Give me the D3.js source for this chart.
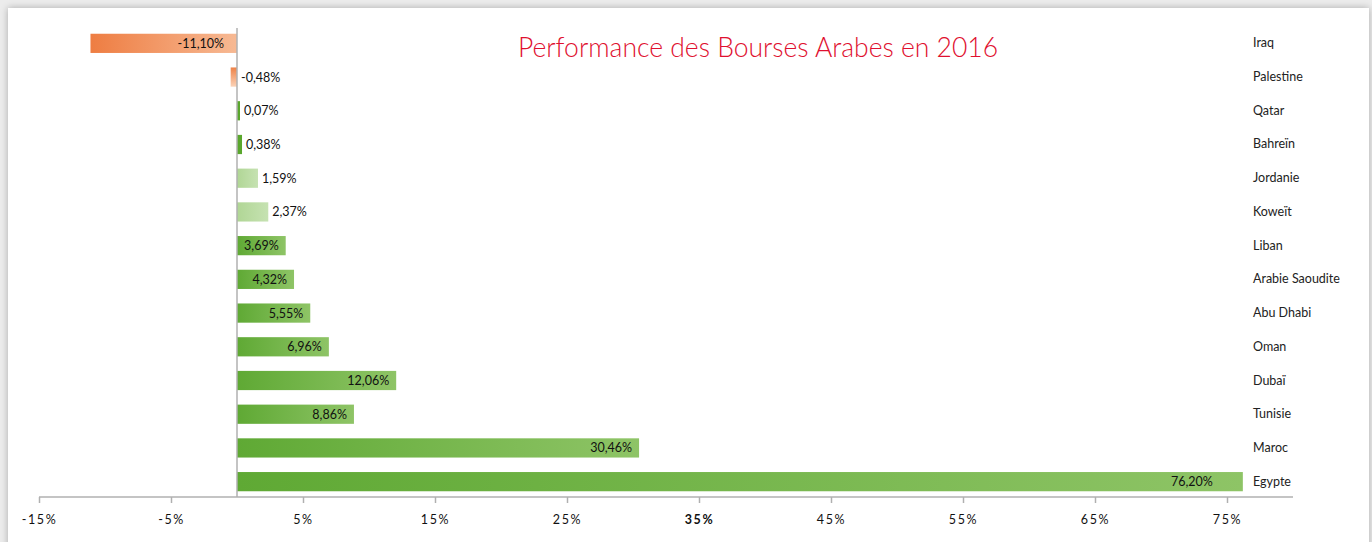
<!DOCTYPE html>
<html>
<head>
<meta charset="utf-8">
<script src="https://cdn.jsdelivr.net/npm/d3@7"></script>
<style>
  html, body { margin: 0; padding: 0; background: #ececec; overflow: hidden; }
  .card { position: absolute; left: 8px; top: 8px; width: 1361px; height: 560px; background: #fff;
          box-shadow: 0 0 7px rgba(0,0,0,0.28); }
  svg { position: absolute; left: 0; top: 0; }
  text { font-family: Lato, "Open Sans", sans-serif; }
</style>
</head>
<body>
<div class="card"></div>
<script>
// data
const countries = ['Iraq', 'Palestine', 'Qatar', 'Bahreïn', 'Jordanie', 'Koweït', 'Liban',
  'Arabie Saoudite', 'Abu Dhabi', 'Oman', 'Dubaï', 'Tunisie', 'Maroc', 'Egypte'];
const perf = [-11.10, -0.48, 0.07, 0.38, 1.59, 2.37, 3.69, 4.32, 5.55, 6.96, 12.06, 8.86, 30.46, 76.20];
const tickVals = [-15, -5, 5, 15, 25, 35, 45, 55, 65, 75];
const title = 'Performance des Bourses Arabes en 2016';

const w = 1372, h = 542;
const data = countries.map((c, i) => ({name: c, v: perf[i]}));

const svg = d3.select('body').append('svg').attr('width', w).attr('height', h);

// gradients
const defs = svg.append('defs');
function grad(id, c1, c2, vertical) {
  const g = defs.append('linearGradient').attr('id', id)
    .attr('x1', 0).attr('y1', 0).attr('x2', vertical ? 0 : 1).attr('y2', vertical ? 1 : 0);
  g.append('stop').attr('offset', '0%').attr('stop-color', c1);
  g.append('stop').attr('offset', '100%').attr('stop-color', c2);
}
grad('gGreen', '#5fa934', '#8ec466');
grad('gPale', '#b0d695', '#c6e2b2');
grad('gOrange', '#ee7d42', '#f7b993');
grad('gOrangeV', '#ee8247', '#fbd3b8', true);

const paleBars = ['Jordanie', 'Koweït'];
function fillFor(d) {
  if (d.v < 0) return d.v > -2 ? 'url(#gOrangeV)' : 'url(#gOrange)';
  if (d.v < 1) return '#5aa72d';
  if (paleBars.includes(d.name)) return 'url(#gPale)';
  return 'url(#gGreen)';
}

const x = d3.scaleLinear().domain([-15, 80]).range([39, 1293]);
const y = d3.scaleBand().domain(countries).range([27, 498]).paddingInner(0.43).paddingOuter(0.2);

// bars (tiny values still get a visible sliver)
svg.selectAll('rect.bar').data(data).enter().append('rect')
  .attr('class', 'bar')
  .attr('x', d => x(Math.min(0, d.v)))
  .attr('y', d => y(d.name))
  .attr('width', d => Math.max(3, Math.abs(x(d.v) - x(0))))
  .attr('height', y.bandwidth())
  .attr('fill', d => fillFor(d));

// zero line
svg.append('line')
  .attr('x1', x(0)).attr('x2', x(0)).attr('y1', 28).attr('y2', 497)
  .attr('stroke', '#b0b0b0').attr('stroke-width', 1.5);

// value labels
const fmt = v => v.toFixed(2).replace('.', ',') + '%';
svg.selectAll('text.val').data(data).enter().append('text')
  .attr('class', 'val')
  .attr('x', d => {
    if (d.v < -2) return x(0) - 13;
    if (d.v < 0) return x(0) + 4;
    if (d.v < 3) return Math.max(x(d.v), x(0) + 3) + 4;
    if (d.v > 70) return x(d.v) - 30;
    return x(d.v) - 7;
  })
  .attr('y', d => y(d.name) + y.bandwidth() / 2 + 4.5)
  .attr('text-anchor', d => (d.v < -2 || d.v >= 3) ? 'end' : 'start')
  .attr('font-size', 12.5)
  .attr('fill', '#111')
  .text(d => fmt(d.v));

// category labels
svg.selectAll('text.cat').data(data).enter().append('text')
  .attr('class', 'cat')
  .attr('x', 1253)
  .attr('y', d => y(d.name) + y.bandwidth() / 2 + 4)
  .attr('font-size', 12.5)
  .attr('fill', '#222')
  .text(d => d.name);

// x axis
const xAxis = d3.axisBottom(x).tickValues(tickVals).tickSize(6).tickPadding(12)
  .tickFormat(d => d + '%');
const ax = svg.append('g').attr('transform', 'translate(0,497)').call(xAxis);
ax.select('.domain').attr('stroke', '#b0b0b0').attr('stroke-width', 1.5)
  .attr('d', 'M' + x(-15) + ',0H' + x(80));
ax.selectAll('.tick line').attr('stroke', '#b0b0b0').attr('stroke-width', 1.5);
ax.selectAll('.tick text')
  .attr('font-family', 'Lato, sans-serif')
  .attr('font-size', 12.5)
  .attr('letter-spacing', 1.6)
  .attr('fill', '#111')
  .attr('font-weight', d => d === 35 ? 'bold' : 'normal');

// title
svg.append('text')
  .attr('x', 758).attr('y', 57)
  .attr('text-anchor', 'middle')
  .attr('font-size', 26.5)
  .attr('font-weight', 300)
  .attr('fill', '#e0102f')
  .text(title);
</script>
</body>
</html>
